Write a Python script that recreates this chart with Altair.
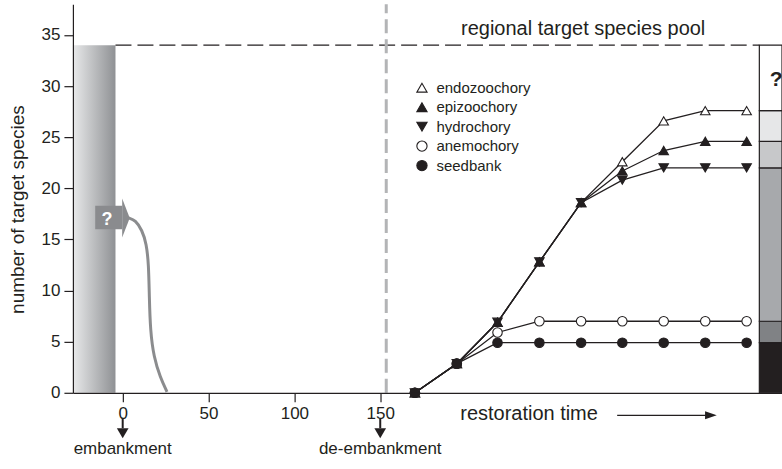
import altair as alt
import pandas as pd

FONT = "Liberation Sans"
INK = "#231f20"

# ---- species accumulation after de-embankment -------------------------------
times = [170.2, 194.6, 218.3, 242.7, 267.0, 291.0, 315.1, 339.3, 363.4]
endozoochory = [0, 2.85, 6.9, 12.8, 18.6, 22.6, 26.6, 27.6, 27.6]
epizoochory = [0, 2.85, 6.9, 12.8, 18.6, 21.7, 23.7, 24.6, 24.6]
hydrochory = [0, 2.85, 6.9, 12.8, 18.6, 20.8, 22.0, 22.0, 22.0]
anemochory = [0, 2.85, 5.9, 7.0, 7.0, 7.0, 7.0, 7.0, 7.0]
seedbank = [0, 2.85, 4.9, 4.9, 4.9, 4.9, 4.9, 4.9, 4.9]

series_names = ["endozoochory", "epizoochory", "hydrochory", "anemochory", "seedbank"]
series_values = [endozoochory, epizoochory, hydrochory, anemochory, seedbank]
series_shapes = ["triangle-up", "triangle-up", "triangle-down", "circle", "circle"]
series_fills = ["white", INK, INK, "white", INK]

# ---- historical context ------------------------------------------------------
pool_size = 34
embankment_year = 0
de_embankment_year = 150
dyke_opening = 153.5
pre_embankment_edge = -4.2
x_min, x_max = -29, 384
y_min, y_max = 0, 38

# decline of target species after embankment
decline_x = [3.5, 7.4, 11.3, 13.8, 15.1, 15.5, 16.1, 18.1, 21.9, 25.8]
decline_y = [17.1, 16.9, 15.9, 14.6, 12.6, 9.4, 6.1, 3.5, 1.5, 0.1]

# stacked column of the regional pool: boundaries follow the final values
bar_left = 370.8
final_vals = [seedbank[-1], anemochory[-1], hydrochory[-1], epizoochory[-1], endozoochory[-1], pool_size]
bar_colors = [INK, "#808285", "#a7a9ac", "#c7c8ca", "#e6e7e8", "#ffffff"]

xs = alt.Scale(domain=[x_min, x_max], nice=False, zero=False)
ys = alt.Scale(domain=[y_min, y_max], nice=False, zero=False)

x_axis = alt.Axis(values=[0, 50, 100, 150], title=None, grid=False, tickSize=9,
                  labelFontSize=17, labelPadding=4, labelFont=FONT, labelColor=INK,
                  domainColor=INK, tickColor=INK, domainWidth=1.2, tickWidth=1.2, zindex=1)
y_axis = alt.Axis(values=[0, 5, 10, 15, 20, 25, 30, 35], title="number of target species",
                  grid=False, tickSize=9, labelFontSize=17, labelPadding=4, labelFont=FONT,
                  labelColor=INK, domainColor=INK, tickColor=INK, domainWidth=1.2,
                  tickWidth=1.2, titleFont=FONT, titleFontSize=19, titleFontWeight="normal",
                  titleColor=INK, titleX=-55, titleY=205, titleAngle=270,
                  titleAlign="center", titleBaseline="middle", zindex=1)


def X(field="x"):
    return alt.X(f"{field}:Q", scale=xs, axis=x_axis)


def Y(field="y"):
    return alt.Y(f"{field}:Q", scale=ys, axis=y_axis)


# long-format series table
rows = []
for name, vals in zip(series_names, series_values):
    for t, v in zip(times, vals):
        rows.append({"series": name, "x": t, "y": v})
series_df = pd.DataFrame(rows)

# gradient band before embankment
band = alt.Chart(pd.DataFrame({"x": [x_min], "x2": [pre_embankment_edge],
                               "y": [0], "y2": [pool_size]})).mark_rect(
    fill=alt.Gradient(gradient="linear", x1=0, y1=0, x2=1, y2=0,
                      stops=[alt.GradientStop(color="#e8e9ea", offset=0),
                             alt.GradientStop(color="#8f9194", offset=1)])
).encode(x=X(), x2="x2", y=Y(), y2="y2")

# stacked pool column at the right edge
lows = [0] + final_vals[:-1]
bar_df = pd.DataFrame({"x": [bar_left] * 6, "x2": [x_max] * 6, "y": lows,
                       "y2": final_vals, "c": bar_colors})
pool_bar = alt.Chart(bar_df).mark_rect(stroke=INK, strokeWidth=1.2).encode(
    x=X(), x2="x2", y=Y(), y2="y2", fill=alt.Fill("c:N", scale=None))

pool_line = alt.Chart(pd.DataFrame({"x": [pre_embankment_edge], "x2": [bar_left],
                                    "y": [pool_size]})).mark_rule(
    color=INK, strokeWidth=1.2, strokeDash=[16, 6]).encode(x=X(), x2="x2", y=Y())

dyke = alt.Chart(pd.DataFrame({"x": [dyke_opening], "y": [y_min], "y2": [y_max]})).mark_rule(
    color="#b3b4b6", strokeWidth=3, strokeDash=[14, 6]).encode(x=X(), y=Y(), y2="y2")

decline = alt.Chart(pd.DataFrame({"x": decline_x, "y": decline_y,
                                  "o": list(range(len(decline_x)))})).mark_line(
    color="#8b8c8e", strokeWidth=3, interpolate="basis").encode(
    x=X(), y=Y(), order="o:Q")

# grey block arrow with question mark
shaft = alt.Chart(pd.DataFrame({"x": [-16], "x2": [-0.3], "y": [16.0], "y2": [18.3]})).mark_rect(
    color="#8a8b8e").encode(x=X(), x2="x2", y=Y(), y2="y2")
head = alt.Chart(pd.DataFrame({"x": [-0.3, 4.1], "y": [19.0, 17.1], "y2": [15.2, 17.1]})).mark_area(
    color="#8a8b8e", orient="vertical").encode(x=X(), y=Y(), y2="y2")
qmark = alt.Chart(pd.DataFrame({"x": [-9.1], "y": [16.9], "t": ["?"]})).mark_text(
    font=FONT, fontSize=18, fontWeight="bold", color="white", baseline="middle").encode(
    x=X(), y=Y(), text="t:N")

# series lines and markers
legend_kw = dict(title=None, orient="none", legendX=342, legendY=76,
                 labelFont=FONT, labelFontSize=15, labelColor=INK,
                 symbolSize=105, symbolStrokeColor=INK, symbolStrokeWidth=1.1,
                 rowPadding=3.5, labelOffset=7)
lines = alt.Chart(series_df).mark_line(color=INK, strokeWidth=1.3).encode(
    x=X(), y=Y(), detail="series:N")
points = alt.Chart(series_df).mark_point(filled=True, size=90, stroke=INK,
                                         strokeWidth=1.1, opacity=1).encode(
    x=X(), y=Y(),
    shape=alt.Shape("series:N", scale=alt.Scale(domain=series_names, range=series_shapes),
                    legend=alt.Legend(**legend_kw)),
    fill=alt.Fill("series:N", scale=alt.Scale(domain=series_names, range=series_fills),
                  legend=alt.Legend(**legend_kw)),
)

# annotations
pool_label = alt.Chart(pd.DataFrame({"x": [268.2], "y": [35.6],
                                     "t": ["regional target species pool"]})).mark_text(
    font=FONT, fontSize=20, color=INK, baseline="middle").encode(x=X(), y=Y(), text="t:N")
pool_q = alt.Chart(pd.DataFrame({"x": [380.6], "y": [30.6], "t": ["?"]})).mark_text(
    font=FONT, fontSize=21, fontWeight="bold", color=INK, baseline="middle").encode(
    x=X(), y=Y(), text="t:N")

events_df = pd.DataFrame({"x": [embankment_year, de_embankment_year],
                          "t": ["embankment", "de-embankment"]})
events_df["y"] = -5.5
events_df["ys"] = -2.5
events_df["ye"] = -3.47
event_text = alt.Chart(events_df).mark_text(font=FONT, fontSize=17, color=INK,
                                            baseline="middle").encode(x=X(), y=Y(), text="t:N")
event_shaft = alt.Chart(events_df).mark_rule(color=INK, strokeWidth=2).encode(
    x=X(), y=Y("ys"), y2="ye")
tri_rows = []
for ev in [embankment_year, de_embankment_year]:
    tri_rows += [{"e": ev, "x": ev - 3.4, "y": -3.47, "y2": -3.47},
                 {"e": ev, "x": ev, "y": -3.47, "y2": -4.44},
                 {"e": ev, "x": ev + 3.4, "y": -3.47, "y2": -3.47}]
event_heads = alt.Chart(pd.DataFrame(tri_rows)).mark_area(color=INK, orient="vertical").encode(
    x=X(), y=Y(), y2="y2", detail="e:N")

time_label = alt.Chart(pd.DataFrame({"x": [196.6], "y": [-2.1],
                                     "t": ["restoration time"]})).mark_text(
    font=FONT, fontSize=20, color=INK, align="left", baseline="middle").encode(
    x=X(), y=Y(), text="t:N")
time_shaft = alt.Chart(pd.DataFrame({"x": [288.0], "x2": [340.0], "y": [-2.2]})).mark_rule(
    color=INK, strokeWidth=1.3).encode(x=X(), x2="x2", y=Y())
time_head = alt.Chart(pd.DataFrame({"x": [339.2, 346.0], "y": [-1.81, -2.2],
                                    "y2": [-2.59, -2.2]})).mark_area(
    color=INK, orient="vertical").encode(x=X(), y=Y(), y2="y2")

chart = alt.layer(
    lines, band, pool_bar, pool_line, dyke, decline, shaft, head, qmark, points,
    pool_label, pool_q, event_text, event_shaft, event_heads, time_label, time_shaft, time_head,
).properties(
    width=710, height=389,
    padding={"left": 73, "top": 4, "right": 0, "bottom": 76},
    autosize=alt.AutoSizeParams(type="none"),
    background="white",
).configure_view(strokeWidth=0)

chart.save("out.html", embed_options={"renderer": "svg", "actions": False})
